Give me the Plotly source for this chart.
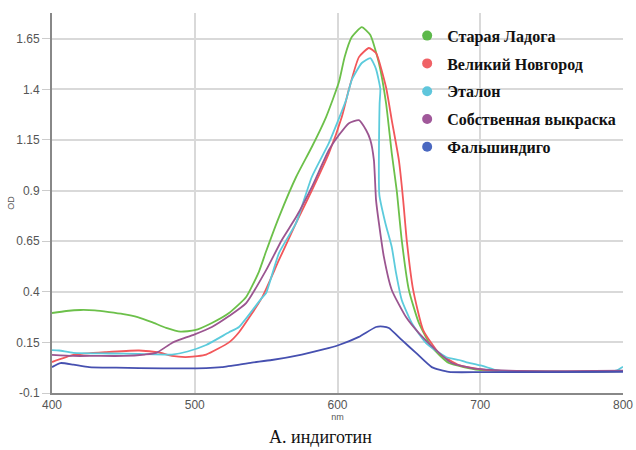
import plotly.graph_objects as go

# ---- data ----
names = ["Старая Ладога", "Великий Новгород", "Эталон", "Собственная выкраска", "Фальшиндиго"]

green_x = [400, 410, 420, 430, 440, 450, 460, 470, 480, 490, 500, 512, 524, 536, 545, 550, 559, 571, 582, 592,
           601, 605, 610, 617, 623, 629, 634, 638, 641.5, 645, 650, 657, 666, 678, 699, 720, 750, 780, 800]
green_y = [0.295, 0.305, 0.31, 0.308, 0.30, 0.29, 0.275, 0.25, 0.222, 0.203, 0.21, 0.246, 0.295, 0.374, 0.50, 0.60,
           0.769, 0.967, 1.115, 1.263, 1.436, 1.56, 1.658, 1.707, 1.668, 1.53, 1.332, 1.085, 0.9, 0.655, 0.409,
           0.246, 0.127, 0.048, 0.014, 0.008, 0.005, 0.005, 0.008]

red_x = [400, 415, 438, 461, 475, 484, 496, 508, 524, 531, 547, 559, 571, 582, 594, 603, 608, 615, 622, 627,
         634, 638, 643, 646, 648.5, 653, 660, 671, 685, 704, 730, 760, 800]
red_y = [0.053, 0.088, 0.102, 0.11, 0.10, 0.083, 0.078, 0.09, 0.15, 0.20, 0.37, 0.557, 0.74, 0.90, 1.085, 1.263,
         1.40, 1.559, 1.604, 1.579, 1.41, 1.248, 1.05, 0.853, 0.655, 0.409, 0.211, 0.098, 0.038, 0.014, 0.006,
         0.005, 0.008]

cyan_x = [400, 405, 415, 440, 461, 484, 495, 508, 524, 531, 547, 550, 559, 571, 582, 594, 606, 610, 617, 623,
          627, 630, 629.5, 629.3, 633.5, 638, 641, 645, 652, 662, 676, 685, 690, 701, 713, 740, 770, 795, 800]
cyan_y = [0.112, 0.11, 0.098, 0.095, 0.093, 0.09, 0.105, 0.137, 0.20, 0.226, 0.37, 0.394, 0.591, 0.74, 0.967,
          1.135, 1.347, 1.446, 1.53, 1.554, 1.50, 1.40, 1.33, 0.88, 0.74, 0.621, 0.493, 0.359, 0.246, 0.147,
          0.078, 0.063, 0.053, 0.035, 0.01, 0.005, 0.006, 0.01, 0.03]

purple_x = [400, 415, 430, 450, 465, 473, 484, 489, 500, 512, 524, 536, 550, 561, 571, 582, 594, 601, 608, 615,
            620, 623, 625.5, 627, 629, 632.5, 638, 648, 657, 669, 680, 694, 720, 760, 800]
purple_y = [0.088, 0.083, 0.083, 0.083, 0.09, 0.098, 0.147, 0.162, 0.19, 0.226, 0.28, 0.344, 0.507, 0.656,
            0.769, 0.917, 1.10, 1.174, 1.233, 1.248, 1.199, 1.15, 1.05, 0.853, 0.74, 0.572, 0.409, 0.275, 0.196,
            0.112, 0.048, 0.023, 0.01, 0.008, 0.01]

blue_x = [400, 406, 415, 426, 445, 461, 508, 519, 540, 554, 575, 590, 601, 615, 627, 632, 636, 645, 655, 666,
          678, 700, 750, 800]
blue_y = [0.028, 0.048, 0.04, 0.028, 0.025, 0.023, 0.023, 0.028, 0.05, 0.063, 0.09, 0.115, 0.137, 0.177, 0.226,
          0.228, 0.221, 0.162, 0.098, 0.028, 0.004, 0.003, 0.003, 0.005]

x_ticks = [400, 500, 600, 700, 800]
y_ticks = [-0.1, 0.15, 0.4, 0.65, 0.9, 1.15, 1.4, 1.65]
y_tick_text = ["-0.1", "0.15", "0.4", "0.65", "0.9", "1.15", "1.4", "1.65"]

line_colors = ["#6cc04a", "#f2575a", "#5ccbdc", "#9b5590", "#4650b0"]
marker_colors = ["#5cb84a", "#f06266", "#5fc6dc", "#a0589a", "#4a68c0"]

series = [(green_x, green_y), (red_x, red_y), (cyan_x, cyan_y), (purple_x, purple_y), (blue_x, blue_y)]

fig = go.Figure()
for (xs, ys), c in zip(series, line_colors):
    fig.add_trace(go.Scatter(x=xs, y=ys, mode="lines",
                             line=dict(color=c, width=1.8, shape="spline", smoothing=0.5),
                             showlegend=False, hoverinfo="skip"))

for i, (n, mc) in enumerate(zip(names, marker_colors)):
    fig.add_trace(go.Scatter(x=[None], y=[None], mode="markers", name="<b>" + n + "</b>",
                             marker=dict(color=mc, size=10, symbol="circle"),
                             legendgroup="g%d" % i, showlegend=True))

fig.update_layout(
    width=636, height=450,
    margin=dict(l=52, r=13, t=13, b=57),
    paper_bgcolor="white", plot_bgcolor="white",
    font=dict(family="Liberation Sans", color="#444"),
    legend=dict(x=0.622, y=0.985, xanchor="left", yanchor="top", bgcolor="rgba(255,255,255,0)",
                font=dict(family="Liberation Serif", size=16, color="#111"),
                tracegroupgap=4, itemwidth=30),
    xaxis=dict(range=[400, 800], tickvals=x_ticks, ticktext=[str(v) for v in x_ticks],
               showgrid=True, gridcolor="#d9d9d9", gridwidth=1.5, automargin=False,
               showline=True, linecolor="#888", linewidth=2, ticks="",
               tickfont=dict(family="Liberation Sans", size=12, color="#555"),
               title=dict(text="nm", font=dict(size=9, color="#555"), standoff=0), zeroline=False),
    yaxis=dict(range=[-0.1, 1.777], tickvals=y_ticks, ticktext=y_tick_text,
               showgrid=True, gridcolor="#d9d9d9", gridwidth=1.5, automargin=False,
               showline=True, linecolor="#888", linewidth=2, ticks="outside", ticklen=8, tickcolor="#ccc",
               tickfont=dict(family="Liberation Sans", size=12, color="#555"),
               title=dict(text="OD", font=dict(size=9, color="#555"), standoff=0), zeroline=False),
    annotations=[dict(text="А. индиготин", x=(320 - 52) / 571, y=(393 - 437) / 380, xref="paper", yref="paper",
                      xanchor="center", yanchor="middle", showarrow=False,
                      font=dict(family="Liberation Serif", size=18, color="#111"))],
)

fig.write_html("out.html", post_script="document.body.style.margin='0';",
               config={"displayModeBar": False})
